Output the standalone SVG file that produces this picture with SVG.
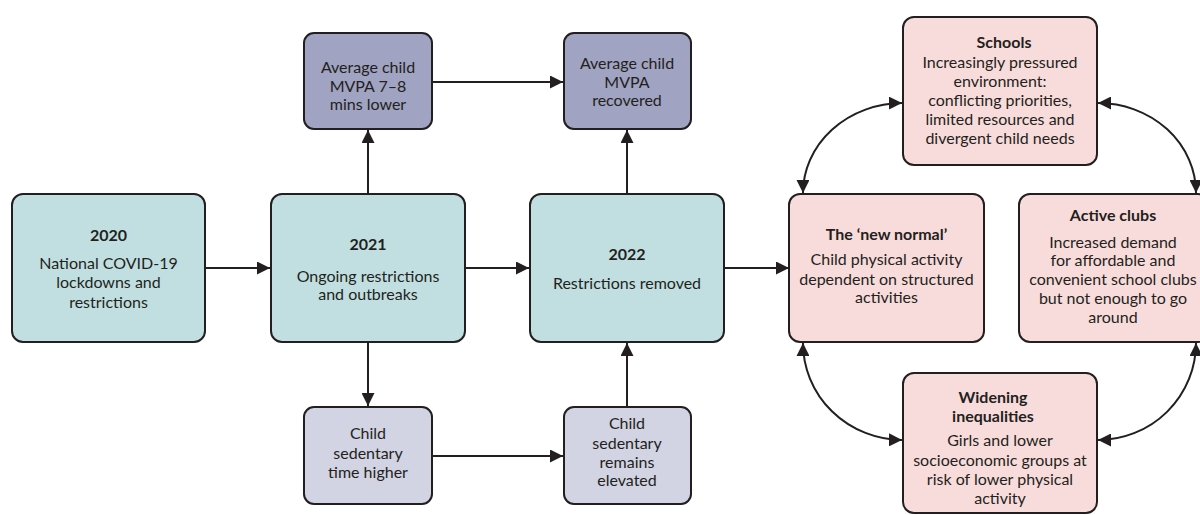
<svg xmlns="http://www.w3.org/2000/svg" width="1200" height="515" viewBox="0 0 1200 515">
<style>
.box{stroke:#231f20;stroke-width:2}
.teal{fill:#c1dfe1}
.dp{fill:#a0a3c1}
.lp{fill:#d2d3e3}
.pk{fill:#f8dcdb}
text{font-family:Lato,"Noto Sans","Liberation Sans",sans-serif;font-size:16px;fill:#231f20;text-anchor:middle}
.b{font-weight:bold}
.c{fill:none;stroke:#231f20;stroke-width:2}
</style>
<defs>
<marker id="ah" viewBox="0 0 13 13" refX="13" refY="6.5" markerWidth="13" markerHeight="13" markerUnits="userSpaceOnUse" orient="auto-start-reverse">
<path d="M0,0 L13,6.5 L0,13 Z" fill="#231f20"/>
</marker>
</defs>
<rect width="1200" height="515" fill="#ffffff"/>
<g id="connectors">
<path class="c" d="M205,268 H270" marker-end="url(#ah)"/>
<path class="c" d="M465,268 H529" marker-end="url(#ah)"/>
<path class="c" d="M724,268 H789" marker-end="url(#ah)"/>
<path class="c" d="M368,194 V130" marker-end="url(#ah)"/>
<path class="c" d="M368,342 V406" marker-end="url(#ah)"/>
<path class="c" d="M627,194 V130" marker-end="url(#ah)"/>
<path class="c" d="M627,407 V343" marker-end="url(#ah)"/>
<path class="c" d="M432,82 H563" marker-end="url(#ah)"/>
<path class="c" d="M432,456 H563" marker-end="url(#ah)"/>
<path class="c" d="M803,193 A100 90 0 0 1 902,103" marker-start="url(#ah)" marker-end="url(#ah)"/>
<path class="c" d="M1098,103 A98 90 0 0 1 1196,193" marker-start="url(#ah)" marker-end="url(#ah)"/>
<path class="c" d="M803,343 A100 97 0 0 0 902,440" marker-start="url(#ah)" marker-end="url(#ah)"/>
<path class="c" d="M1098,440 A98 97 0 0 0 1196,343" marker-start="url(#ah)" marker-end="url(#ah)"/>
</g>
<g id="n2020">
<rect class="box teal" x="12" y="194" width="193" height="148" rx="11"/>
<text class="b" x="108.5" y="241">2020</text>
<text x="108.5" y="269">National COVID-19</text>
<text x="108.5" y="288">lockdowns and</text>
<text x="108.5" y="308">restrictions</text>
</g>
<g id="n2021">
<rect class="box teal" x="271" y="194" width="194" height="148" rx="11"/>
<text class="b" x="368" y="250">2021</text>
<text x="368" y="282">Ongoing restrictions</text>
<text x="368" y="300">and outbreaks</text>
</g>
<g id="n2022">
<rect class="box teal" x="530" y="194" width="194" height="148" rx="11"/>
<text class="b" x="627" y="260">2022</text>
<text x="627" y="289">Restrictions removed</text>
</g>
<g id="mvpaLower">
<rect class="box dp" x="304" y="33" width="128" height="96" rx="10"/>
<text x="368" y="73">Average child</text>
<text x="368" y="92">MVPA 7–8</text>
<text x="368" y="110">mins lower</text>
</g>
<g id="mvpaRecovered">
<rect class="box dp" x="564" y="33" width="127" height="96" rx="10"/>
<text x="627" y="69">Average child</text>
<text x="627" y="88">MVPA</text>
<text x="627" y="106">recovered</text>
</g>
<g id="sedHigher">
<rect class="box lp" x="304" y="407" width="128" height="97" rx="10"/>
<text x="368" y="439">Child</text>
<text x="368" y="459">sedentary</text>
<text x="368" y="478">time higher</text>
</g>
<g id="sedElevated">
<rect class="box lp" x="564" y="407" width="127" height="97" rx="10"/>
<text x="627" y="429">Child</text>
<text x="627" y="449">sedentary</text>
<text x="627" y="468">remains</text>
<text x="627" y="486">elevated</text>
</g>
<g id="newNormal">
<rect class="box pk" x="789" y="194" width="195" height="148" rx="11"/>
<text class="b" x="886.5" y="240">The ‘new normal’</text>
<text x="886.5" y="265">Child physical activity</text>
<text x="886.5" y="285">dependent on structured</text>
<text x="886.5" y="303">activities</text>
</g>
<g id="schools">
<rect class="box pk" x="903" y="17" width="194" height="148" rx="11"/>
<text class="b" x="1004" y="48">Schools</text>
<text x="1000" y="68">Increasingly pressured</text>
<text x="1000" y="87">environment:</text>
<text x="1000" y="106">conflicting priorities,</text>
<text x="1000" y="125">limited resources and</text>
<text x="1000" y="144">divergent child needs</text>
</g>
<g id="activeClubs">
<rect class="box pk" x="1019" y="194" width="190" height="148" rx="11"/>
<text class="b" x="1113" y="221">Active clubs</text>
<text x="1113" y="248">Increased demand</text>
<text x="1113" y="266">for affordable and</text>
<text x="1113" y="285">convenient school clubs</text>
<text x="1113" y="304">but not enough to go</text>
<text x="1113" y="323">around</text>
</g>
<g id="widening">
<rect class="box pk" x="903" y="373" width="194" height="140" rx="11"/>
<text class="b" x="993" y="403">Widening</text>
<text class="b" x="993" y="422">inequalities</text>
<text x="1000" y="446">Girls and lower</text>
<text x="1000" y="466">socioeconomic groups at</text>
<text x="1000" y="485">risk of lower physical</text>
<text x="1000" y="504">activity</text>
</g>
</svg>
